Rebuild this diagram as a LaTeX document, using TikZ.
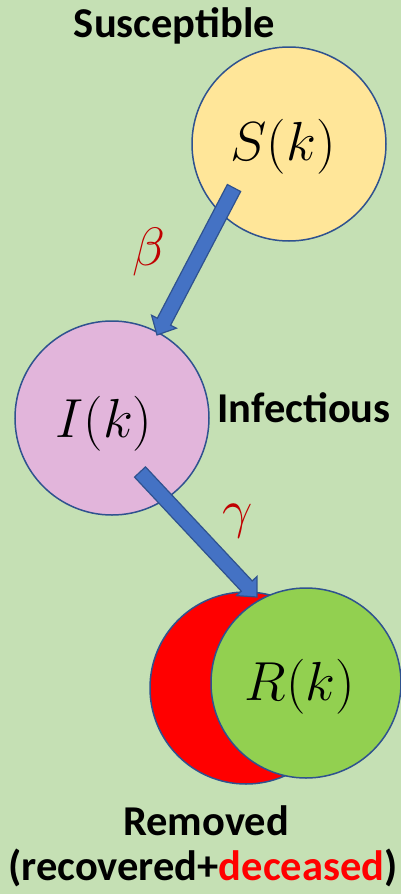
\RequirePackage{fix-cm}
\documentclass[tikz,border=0pt]{standalone}
\usepackage{fontspec}
\setmainfont{Carlito}
\usetikzlibrary{calc}
\definecolor{bg}{HTML}{C5E0B4}
\definecolor{edge}{HTML}{2F528F}
\definecolor{sfill}{HTML}{FFE699}
\definecolor{ifill}{HTML}{E2B5DB}
\definecolor{rfill}{HTML}{92D050}
\definecolor{dfill}{HTML}{FF0000}
\definecolor{arrfill}{HTML}{4472C4}
\definecolor{greek}{HTML}{C00000}
\tikzset{
  compart/.style={circle, draw=edge, line width=1.5pt, inner sep=0pt},
  lbl/.style={anchor=base, inner sep=0pt, font=\fontsize{42.5}{42.5}\selectfont\bfseries},
  mathlbl/.style={anchor=base, inner sep=0pt, font=\fontsize{55}{55}\selectfont},
  greeklbl/.style={inner sep=0pt, text=greek, font=\fontsize{54}{54}\selectfont},
  blockarrow/.style={fill=arrfill, draw=edge, line width=1.2pt, line join=miter}
}
\newcommand{\blockarr}[5]{% tail, tip, shaft half width, head half width, head length
  \coordinate (H) at ($(#2)!#5!(#1)$);
  \draw[blockarrow] ($(#1)!#3!90:(#2)$) -- ($(H)!#3!90:(#2)$) -- ($(H)!#4!90:(#2)$)
    -- (#2) -- ($(H)!#4!-90:(#2)$) -- ($(H)!#3!-90:(#2)$) -- ($(#1)!#3!-90:(#2)$) -- cycle;
}
\begin{document}
\begin{tikzpicture}[x=1pt,y=-1pt]
\fill[bg] (0,0) rectangle (401,894);
\useasboundingbox (0,0) rectangle (401,894);
% compartments
\node[compart, fill=sfill, minimum size=194pt] (S) at (289,144) {};
\node[compart, fill=ifill, minimum size=194pt] (I) at (112,418) {};
\node[compart, fill=dfill, minimum size=192pt] (D) at (246,688) {};
% arrows
\coordinate (a1t) at (234,188);
\coordinate (a1h) at (157,335);
\blockarr{a1t}{a1h}{7.5pt}{14pt}{15pt}
\coordinate (a2t) at (140,472);
\coordinate (a2h) at (257,597);
\blockarr{a2t}{a2h}{7.5pt}{14pt}{15pt}
\node[compart, fill=rfill, minimum size=190pt] (R) at (306,683) {};
% math labels
\node[mathlbl] (Sk) at (283,160) {$S(k)$};
\node[mathlbl] (Ik) at (104,437) {$I(k)$};
\node[mathlbl] (Rk) at (300,700) {$R(k)$};
\node[greeklbl] (beta) at (148.5,252) {$\beta$};
\node[greeklbl] (gamma) at (237.5,521.5) {$\gamma$};
% text labels
\node[lbl] (sus) at (174.5,37) {Susceptible};
\node[lbl] (inf) at (304,422) {Infectious};
\node[lbl] (rem) at (206,835) {Removed};
\node[lbl] (rec) at (203,880) {(recovered+\textcolor{dfill}{deceased})};
\end{tikzpicture}
\end{document}
